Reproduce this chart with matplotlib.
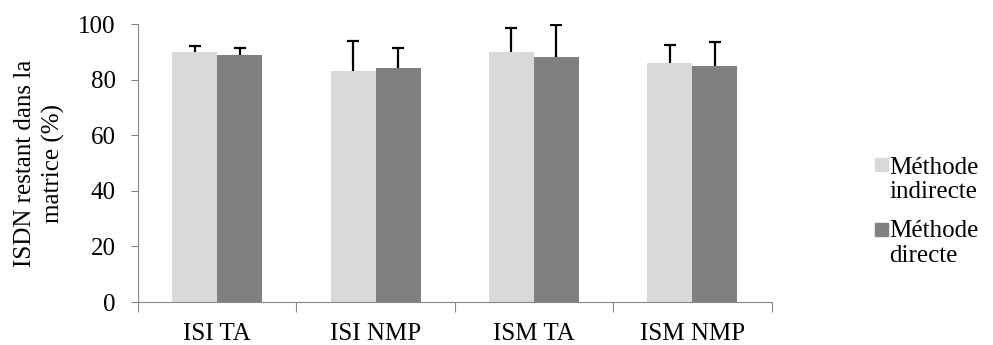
import matplotlib
matplotlib.use("Agg")
import matplotlib.pyplot as plt
from matplotlib.patches import Rectangle
import numpy as np

categories = ["ISI TA", "ISI NMP", "ISM TA", "ISM NMP"]
indirecte = [89.8, 83.1, 89.8, 85.9]
indirecte_err = [2.3, 11.0, 8.9, 6.5]
directe = [89.0, 84.3, 88.0, 84.9]
directe_err = [2.5, 7.0, 11.7, 8.8]
series_labels = ["Méthode\nindirecte", "Méthode\ndirecte"]
colors = ["#d9d9d9", "#808080"]

plt.rcParams["font.family"] = ["Liberation Serif", "DejaVu Serif"]
plt.rcParams["font.size"] = 18

fig = plt.figure(figsize=(9.93, 3.45), dpi=100)
ax = fig.add_axes([0.139, 0.1246, 0.638, 0.8054])

x = np.arange(len(categories))
w = 0.284
ekw = dict(ecolor="black", elinewidth=1.6, capsize=4, capthick=1.6)
for off, vals, errs, c in [(-w / 2, indirecte, indirecte_err, colors[0]),
                           (w / 2, directe, directe_err, colors[1])]:
    bc = ax.bar(x + off, vals, w, color=c,
                yerr=[np.zeros(len(vals)), errs], error_kw=ekw)
    # hide the lower caps (only upper error shown)
    bc.errorbar.lines[1][0].set_visible(False)

ax.set_xlim(-0.5, len(categories) - 0.5)
ax.set_ylim(0, 100)
ax.set_yticks(range(0, 101, 20))
ax.set_xticks(np.arange(-0.5, len(categories), 1.0))
ax.set_xticklabels([])
ax.set_xticks(x, minor=True)
ax.set_xticklabels(categories, minor=True)
ax.tick_params(axis="x", which="major", length=7, color="#888888")
ax.tick_params(axis="x", which="minor", length=0, pad=15)
ax.tick_params(axis="y", length=5, color="#888888", pad=11)

for s in ["top", "right"]:
    ax.spines[s].set_visible(False)
for s in ["left", "bottom"]:
    ax.spines[s].set_color("#888888")

ax.set_ylabel("ISDN restant dans la\nmatrice (%)", linespacing=1.35)
ax.yaxis.set_label_coords(-0.115, 0.5)

# legend drawn by hand so the square sits on the first line
W, H = 993, 345
for (ytop, yc), lab, c in zip([(158, 180), (223, 243.5)], series_labels, colors):
    fig.patches.append(Rectangle((875 / W, 1 - (ytop + 13) / H), 13 / W, 13 / H,
                                 transform=fig.transFigure, color=c))
    fig.text(889 / W, 1 - yc / H, lab, va="center", ha="left", linespacing=1.15)

fig.savefig("out.png", dpi=100)
